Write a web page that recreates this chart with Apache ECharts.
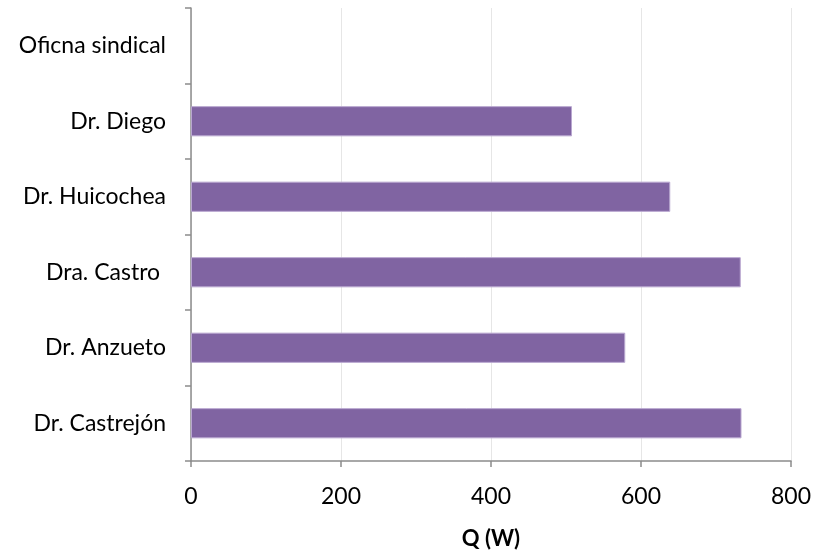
<!DOCTYPE html>
<html>
<head>
<meta charset="utf-8">
<script src="https://cdn.jsdelivr.net/npm/echarts@6/dist/echarts.min.js"></script>
<style>
  html, body { margin: 0; padding: 0; background: #ffffff; }
  #chart { width: 815px; height: 550px; }
</style>
</head>
<body>
<div id="chart"></div>
<script>
// Heat load per office, listed bottom to top
const categories = ['Dr. Castrejón', 'Dr. Anzueto', 'Dra. Castro ', 'Dr. Huicochea', 'Dr. Diego', 'Oficna sindical'];
const qValues = [734, 579, 733, 639, 508, null];
const xTicks = [0, 200, 400, 600, 800];

const font = 'Lato, Open Sans, sans-serif';
const chart = echarts.init(document.getElementById('chart'), null, { renderer: 'canvas' });

chart.setOption({
  animation: false,
  grid: { left: 191, right: 24, top: 8, bottom: 89, containLabel: false, outerBoundsMode: 'none' },
  xAxis: {
    type: 'value',
    min: xTicks[0],
    max: xTicks[xTicks.length - 1],
    interval: 200,
    name: 'Q (W)',
    nameLocation: 'middle',
    nameGap: 67,
    nameTextStyle: { fontFamily: font, fontSize: 22, fontWeight: 'bold', color: '#000' },
    axisLine: { show: true, lineStyle: { color: '#8c8c8c', width: 1.5 } },
    axisTick: { show: true, length: 6, lineStyle: { color: '#8c8c8c', width: 1.5 } },
    axisLabel: { fontFamily: font, fontSize: 23, color: '#000', margin: 24 },
    splitLine: { show: true, lineStyle: { color: '#e6e6e6', width: 1 } }
  },
  yAxis: {
    type: 'category',
    data: categories,
    axisLine: { show: true, lineStyle: { color: '#8c8c8c', width: 1.5 } },
    axisTick: { show: true, length: 6, alignWithLabel: false, lineStyle: { color: '#8c8c8c', width: 1.5 } },
    axisLabel: { fontFamily: font, fontSize: 23, color: '#000', margin: 25 },
    splitLine: { show: false }
  },
  series: [{
    type: 'bar',
    data: qValues,
    barWidth: '40%',
    itemStyle: { color: '#8064a2', borderColor: '#b9a7d0', borderWidth: 1 }
  }]
});
</script>
</body>
</html>
